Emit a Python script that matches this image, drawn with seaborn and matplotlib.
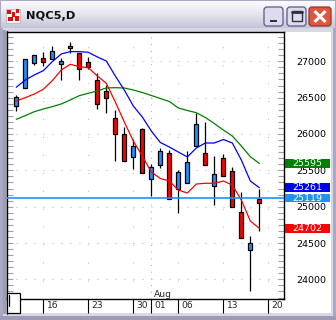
import numpy as np
import pandas as pd
import matplotlib
matplotlib.use("Agg")
import matplotlib.pyplot as plt
import seaborn as sns
from matplotlib.patches import Rectangle, FancyBboxPatch
from matplotlib.ticker import AutoMinorLocator
from matplotlib.colors import LinearSegmentedColormap
import matplotlib.transforms as mtransforms

# ---------------- data ----------------
symbol_title = "NQC5,D"
opens  = [26385, 26629, 26973, 27042, 27028, 26959, 27179, 27110, 26987, 26743,
          26596, 26216, 25996, 25679, 26065, 25377, 25573, 25734, 25239, 25322,
          25835, 25734, 25289, 25666, 25491, 24923, 24400, 25101]
highs  = [26537, 27028, 27087, 27124, 27211, 27050, 27266, 27120, 27055, 26835,
          26674, 26330, 26100, 25927, 26078, 25583, 25803, 25780, 25505, 25770,
          26285, 26161, 25697, 25721, 25546, 25198, 24596, 25243]
lows   = [26320, 26629, 26945, 26940, 27028, 26747, 27119, 26747, 26894, 26340,
          26285, 25633, 25628, 25518, 25459, 25151, 25528, 25106, 24909, 25322,
          25835, 25569, 25023, 25422, 24991, 24564, 23844, 24665]
closes = [26513, 27028, 27087, 26987, 27142, 27000, 27211, 26890, 26918, 26413,
          26491, 25996, 25628, 25831, 25459, 25542, 25770, 25106, 25473, 25611,
          26133, 25569, 25445, 25422, 24991, 24573, 24504, 25046]
ma_red   = [26454, 26500, 26550, 26615, 26733, 26880, 26959, 26926, 26912, 26798,
            26698, 26440, 26165, 25904, 25697, 25477, 25388, 25353, 25229, 25188,
            25312, 25322, 25322, 25353, 25298, 25092, 24803, 24702]
ma_blue  = [26643, 26743, 26812, 26871, 26995, 27101, 27133, 27133, 27124, 27060,
            27004, 26798, 26605, 26385, 26234, 26041, 25883, 25821, 25752, 25684,
            25807, 25876, 25876, 25924, 25876, 25642, 25353, 25261]
ma_green = [26202, 26252, 26307, 26344, 26376, 26413, 26468, 26527, 26560, 26592,
            26633, 26637, 26633, 26605, 26571, 26530, 26488, 26447, 26358, 26323,
            26293, 26227, 26144, 26055, 25972, 25835, 25688, 25595]
current_price = 25119
date_ticks  = [3, 8, 13, 15, 18, 23, 28]
date_labels = ["16", "23", "30", "01", "06", "13", "20"]
month_label = "Aug"
month_tick = 15
price_ticks = [24000, 24500, 25000, 25500, 26000, 26500, 27000]

# ---------------- style ----------------
sns.set_style("white")
plt.rcParams['font.family'] = ['DejaVu Sans']
plt.rcParams['lines.scale_dashes'] = False

W, H = 336, 320
fig = plt.figure(figsize=(W / 100, H / 100), dpi=100)

# background / window chrome (pixel coordinates)
bg = fig.add_axes([0, 0, 1, 1])
bg.axis('off')
bg.add_patch(Rectangle((0, 0), W, H, facecolor='#a9a9c4', edgecolor='none'))
grad = np.linspace(0, 1, 64).reshape(-1, 1)
cm_title = LinearSegmentedColormap.from_list('t', ['#fbfbfe', '#e4e4ee', '#c4c4d8'])
bg.imshow(grad, extent=[1, W - 1, 28, 1], cmap=cm_title, aspect='auto', zorder=1)
bg.add_patch(Rectangle((3, 28), W - 6, H - 31, facecolor='#d8d8e4', edgecolor='none', zorder=1))
bg.add_patch(Rectangle((7, 32), 324, 281, facecolor='white', edgecolor='none', zorder=2))
bg.add_patch(Rectangle((3, 30), 3, 284, facecolor='#9c9cb4', edgecolor='none', zorder=2))
bg.plot([6.5, 6.5], [31, 314], color='#303030', lw=1.0, zorder=3)
bg.add_patch(Rectangle((0, H - 4), W, 4, facecolor='#9c9cb8', edgecolor='none', zorder=2))
# icon
bg.add_patch(Rectangle((6, 9), 14, 14, facecolor='#f4f4f4', edgecolor='#b0b0b0', lw=0.5, zorder=3))
for (ix, iy, iw, ih) in [(7, 10, 4, 4), (12, 12, 3, 5), (16, 9, 3, 4), (8, 17, 5, 4), (15, 16, 4, 5)]:
    bg.add_patch(Rectangle((ix, iy), iw, ih, facecolor='#e01010', edgecolor='none', zorder=4))
bg.text(26, 16, symbol_title, fontsize=8.2, fontweight='bold', color='#101010',
        va='center', ha='left', zorder=5)
# buttons
for x0, fc in [(264, '#dcdcec'), (287, '#dcdcec')]:
    bg.add_patch(FancyBboxPatch((x0, 7), 19, 19, boxstyle='round,pad=0,rounding_size=3',
                                facecolor=fc, edgecolor='#5a5a88', lw=0.9, zorder=4))
bg.add_patch(FancyBboxPatch((309, 7), 22, 19, boxstyle='round,pad=0,rounding_size=3',
                            facecolor='#e2553c', edgecolor='#8a3a30', lw=0.9, zorder=4))
bg.add_patch(Rectangle((270, 19.5), 7, 2.5, facecolor='#303040', edgecolor='none', zorder=5))
bg.add_patch(Rectangle((292, 11), 10, 10, facecolor='none', edgecolor='#303040', lw=1.0, zorder=5))
bg.plot([292, 302], [11.5, 11.5], color='#303040', lw=2.0, zorder=5)
bg.plot([314.5, 325.5], [11, 22], color='white', lw=2.2, zorder=5, solid_capstyle='butt')
bg.plot([314.5, 325.5], [22, 11], color='white', lw=2.2, zorder=5, solid_capstyle='butt')
bg.set_xlim(0, W)
bg.set_ylim(H, 0)

# ---------------- main chart axes ----------------
ax = fig.add_axes([7 / W, 1 - 299 / H, 277 / W, 267 / H])
ax.set_facecolor('white')
idx = np.arange(len(opens))
df = pd.DataFrame({'i': idx, 'open': opens, 'high': highs, 'low': lows, 'close': closes,
                   'red': ma_red, 'blue': ma_blue, 'green': ma_green})

# grid
for p in price_ticks:
    ax.axhline(p, color='#b8b8b8', lw=0.8, ls=(0, (0.72, 5.76)), zorder=0.5)
for t in date_ticks:
    if t == month_tick:
        ax.axvline(t, color='#b0b0b0', lw=0.8, ls=(0, (0.72, 4.1)), zorder=0.5)
    else:
        ax.axvline(t, color='#c0c0c0', lw=0.8, ls=(0, (0.72, 12.2)), zorder=0.5)

# candles
up = df['close'] >= df['open']
ax.vlines(df['i'], df['low'], df['high'], color='black', lw=0.9, zorder=3)
body_bottom = np.minimum(df['open'], df['close'])
body_h = np.abs(df['close'] - df['open']).clip(lower=20)
ax.bar(df['i'], body_h, bottom=body_bottom, width=0.46,
       color=np.where(up, '#1e90ff', '#ff0000'), edgecolor='black', lw=0.9, zorder=4)

# moving averages
sns.lineplot(data=df, x='i', y='green', color='#008000', lw=0.9, ax=ax, zorder=5)
sns.lineplot(data=df, x='i', y='blue', color='#0000ff', lw=0.9, ax=ax, zorder=5)
sns.lineplot(data=df, x='i', y='red', color='#ff0000', lw=0.9, ax=ax, zorder=5)
ax.axhline(current_price, color='#1e90ff', lw=1.2, zorder=6)

ax.set_xlim(-1.03, 29.74)
ax.set_ylim(23730, 27403)
ax.set_xlabel('')
ax.set_ylabel('')

# axes styling
for s in ax.spines.values():
    s.set_visible(True)
    s.set_color('black')
    s.set_linewidth(1.0)
ax.set_xticks(date_ticks)
ax.set_xticklabels([])
ax.tick_params(axis='x', direction='out', length=10, width=0.8, color='black', bottom=True)
ax.yaxis.tick_right()
ax.set_yticks(price_ticks)
ax.set_yticklabels([str(p) for p in price_ticks])
ax.yaxis.set_minor_locator(AutoMinorLocator(6))
ax.tick_params(axis='y', which='both', direction='in', left=True, right=True,
               labelleft=False, labelright=True, length=4, width=0.8, color='#a0a0a0',
               pad=9, labelsize=6.8, labelcolor='black')

# date labels
tr_x = mtransforms.blended_transform_factory(ax.transData, ax.transAxes)
for t, lab in zip(date_ticks, date_labels):
    ax.text(t + 0.36, -0.0225, lab, transform=tr_x, fontsize=6.6, ha='left', va='center',
            clip_on=False)
ax.text(month_tick + 0.26, 0.016, month_label, transform=tr_x, fontsize=6.6,
        ha='left', va='center', clip_on=False, zorder=7)

# price boxes on right axis
tr_y = mtransforms.blended_transform_factory(fig.transFigure, ax.transData)
boxes = [(ma_green[-1], '#008000'), (ma_blue[-1], '#0000f0'),
         (current_price, '#1e90ff'), (ma_red[-1], '#ff0000')]
for val, col in boxes:
    ax.add_patch(Rectangle((285 / W, val - 58), 45 / W, 116, transform=tr_y,
                           facecolor=col, edgecolor='none', clip_on=False, zorder=8))
    ax.text(307.5 / W, val, str(val), transform=tr_y, color='white', fontsize=6.8,
            ha='center', va='center', clip_on=False, zorder=9)

# small box at bottom-left
fig.add_artist(Rectangle((7 / W, 1 - 313 / H), 12.5 / W, 20 / H, transform=fig.transFigure,
                         facecolor='white', edgecolor='black', lw=0.9, zorder=10))
fig.add_artist(plt.Line2D([8.8 / W, 8.8 / W], [1 - 306 / H, 1 - 295 / H],
                          transform=fig.transFigure, color='black', lw=0.9, zorder=11))

fig.savefig('out.png', dpi=100)
